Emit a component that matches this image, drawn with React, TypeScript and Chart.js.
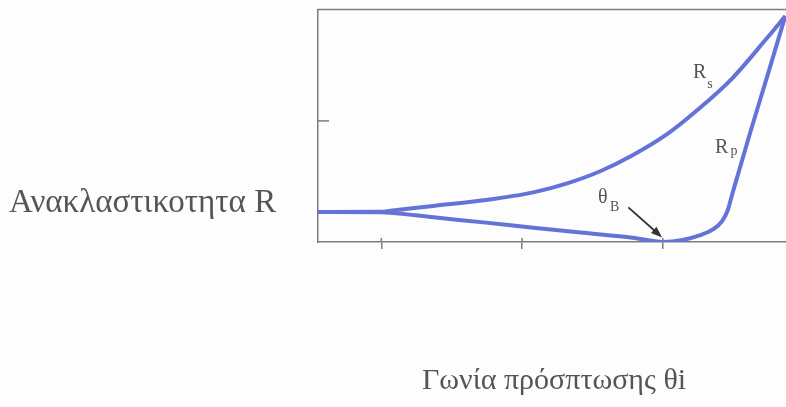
import React, { useEffect, useRef } from "react";
import { Chart, registerables } from "chart.js";

Chart.register(...registerables);

// Angle of incidence (degrees) and reflectance values
const rsAngles = [11, 20, 21.3, 27.4, 34.5, 41.6, 46.4, 51.1, 55.7, 60.6, 65.2, 69.9, 74.8, 77.4];
const rsValues = [0.124, 0.125, 0.129, 0.149, 0.172, 0.205, 0.242, 0.292, 0.358, 0.445, 0.552, 0.677, 0.842, 0.933];

const rpAngles = [11, 20, 21.3, 27.4, 34.5, 41.6, 48.7, 55.7, 60, 62.8, 65.2, 67.1, 68.4, 69.2, 69.9, 72.3, 74.8, 77.4];
const rpValues = [0.124, 0.123, 0.121, 0.102, 0.081, 0.059, 0.038, 0.018, 0, 0.008, 0.027, 0.052, 0.085, 0.130, 0.201, 0.441, 0.681, 0.933];

const xTickValues = [20, 40, 60];
const yTickValues = [0.5];
const xMin = 11;
const xMax = 77.5;
const yMin = 0;
const yMax = 0.96;

const yTitle = "Ανακλαστικοτητα R";
const xTitle = "Γωνία πρόσπτωσης θi";
const rsLabel = "R";
const rsSub = "s";
const rpLabel = "R";
const rpSub = "p";
const brewsterLabel = "θ";
const brewsterSub = "B";

const LINE = "#6373d8";
const AXIS = "#7c7c7c";
const TEXT = "#555555";
const SERIF = "'Liberation Serif', 'DejaVu Serif', serif";

const decorPlugin = {
  id: "decor",
  afterDraw(chart: any) {
    const { ctx, chartArea, scales } = chart;
    const x = scales.x;
    const y = scales.y;
    ctx.save();
    // top frame line
    ctx.strokeStyle = AXIS;
    ctx.lineWidth = 1.5;
    ctx.beginPath();
    ctx.moveTo(chartArea.left, chartArea.top);
    ctx.lineTo(chartArea.right, chartArea.top);
    ctx.stroke();
    // inward y tick
    yTickValues.forEach((v) => {
      const py = y.getPixelForValue(v);
      ctx.beginPath();
      ctx.moveTo(chartArea.left, py);
      ctx.lineTo(chartArea.left + 11, py);
      ctx.stroke();
    });
    // small inward part of x ticks
    xTickValues.forEach((v) => {
      const px = x.getPixelForValue(v);
      ctx.beginPath();
      ctx.moveTo(px, chartArea.bottom);
      ctx.lineTo(px, chartArea.bottom - 4);
      ctx.stroke();
    });

    // curve labels
    ctx.fillStyle = TEXT;
    ctx.textBaseline = "alphabetic";
    ctx.textAlign = "left";
    ctx.font = `20px ${SERIF}`;
    ctx.fillText(rsLabel, x.getPixelForValue(64.3), y.getPixelForValue(0.677));
    ctx.fillText(rpLabel, x.getPixelForValue(67.4), y.getPixelForValue(0.366));
    ctx.fillText(brewsterLabel, x.getPixelForValue(50.8), y.getPixelForValue(0.163));
    ctx.font = `14px ${SERIF}`;
    ctx.fillText(rsSub, x.getPixelForValue(66.3), y.getPixelForValue(0.635));
    ctx.fillText(rpSub, x.getPixelForValue(69.6), y.getPixelForValue(0.358));
    ctx.fillText(brewsterSub, x.getPixelForValue(52.5), y.getPixelForValue(0.130));

    // arrow to Brewster angle
    const ax0 = x.getPixelForValue(55.1);
    const ay0 = y.getPixelForValue(0.143);
    const ax1 = x.getPixelForValue(59.9);
    const ay1 = y.getPixelForValue(0.019);
    const ang = Math.atan2(ay1 - ay0, ax1 - ax0);
    const head = 12;
    ctx.strokeStyle = "#333333";
    ctx.fillStyle = "#333333";
    ctx.lineWidth = 1.8;
    ctx.beginPath();
    ctx.moveTo(ax0, ay0);
    ctx.lineTo(ax1 - Math.cos(ang) * head * 0.8, ay1 - Math.sin(ang) * head * 0.8);
    ctx.stroke();
    ctx.beginPath();
    ctx.moveTo(ax1, ay1);
    ctx.lineTo(ax1 - Math.cos(ang - 0.35) * head, ay1 - Math.sin(ang - 0.35) * head);
    ctx.lineTo(ax1 - Math.cos(ang + 0.35) * head, ay1 - Math.sin(ang + 0.35) * head);
    ctx.closePath();
    ctx.fill();
    ctx.restore();
  },
};

export default function App() {
  const canvasRef = useRef<HTMLCanvasElement | null>(null);

  useEffect(() => {
    if (!canvasRef.current) return;
    const chart = new Chart(canvasRef.current, {
      type: "line",
      data: {
        datasets: [
          {
            label: "Rs",
            data: rsAngles.map((a, i) => ({ x: a, y: rsValues[i] })),
            borderColor: LINE,
            borderWidth: 4,
            pointRadius: 0,
            fill: false,
            cubicInterpolationMode: "monotone",
          },
          {
            label: "Rp",
            data: rpAngles.map((a, i) => ({ x: a, y: rpValues[i] })),
            borderColor: LINE,
            borderWidth: 4,
            pointRadius: 0,
            fill: false,
            cubicInterpolationMode: "monotone",
          },
        ],
      },
      options: {
        animation: false,
        responsive: false,
        maintainAspectRatio: false,
        devicePixelRatio: 1,
        layout: { padding: { left: 318, top: 9.5, right: 0, bottom: 158 } },
        plugins: { legend: { display: false }, tooltip: { enabled: false } },
        scales: {
          x: {
            type: "linear",
            min: xMin,
            max: xMax,
            afterBuildTicks: (s: any) => {
              s.ticks = xTickValues.map((v) => ({ value: v }));
            },
            ticks: { display: false },
            grid: { drawOnChartArea: false, drawTicks: true, tickLength: 7, color: AXIS, lineWidth: 1.5 },
            border: { display: true, color: AXIS, width: 1.5 },
          },
          y: {
            type: "linear",
            min: yMin,
            max: yMax,
            afterBuildTicks: (s: any) => {
              s.ticks = yTickValues.map((v) => ({ value: v }));
            },
            ticks: { display: false },
            grid: { display: false, drawTicks: false },
            border: { display: true, color: AXIS, width: 1.5 },
          },
        },
      },
      plugins: [decorPlugin],
    } as any);
    return () => chart.destroy();
  }, []);

  return (
    <div style={{ position: "fixed", left: 0, top: 0, width: 786, height: 407, background: "#fdfdfd", overflow: "hidden" }}>
      <canvas ref={canvasRef} width={786} height={407} style={{ position: "absolute", left: 0, top: 0, width: 786, height: 407 }} />
      <div style={{ position: "absolute", left: 9, top: 185, fontFamily: SERIF, fontSize: 33, lineHeight: "33px", color: TEXT, whiteSpace: "nowrap" }}>
        {yTitle}
      </div>
      <div style={{ position: "absolute", left: 422, top: 364, fontFamily: SERIF, fontSize: 30, lineHeight: "30px", color: TEXT, whiteSpace: "nowrap" }}>
        {xTitle}
      </div>
    </div>
  );
}
